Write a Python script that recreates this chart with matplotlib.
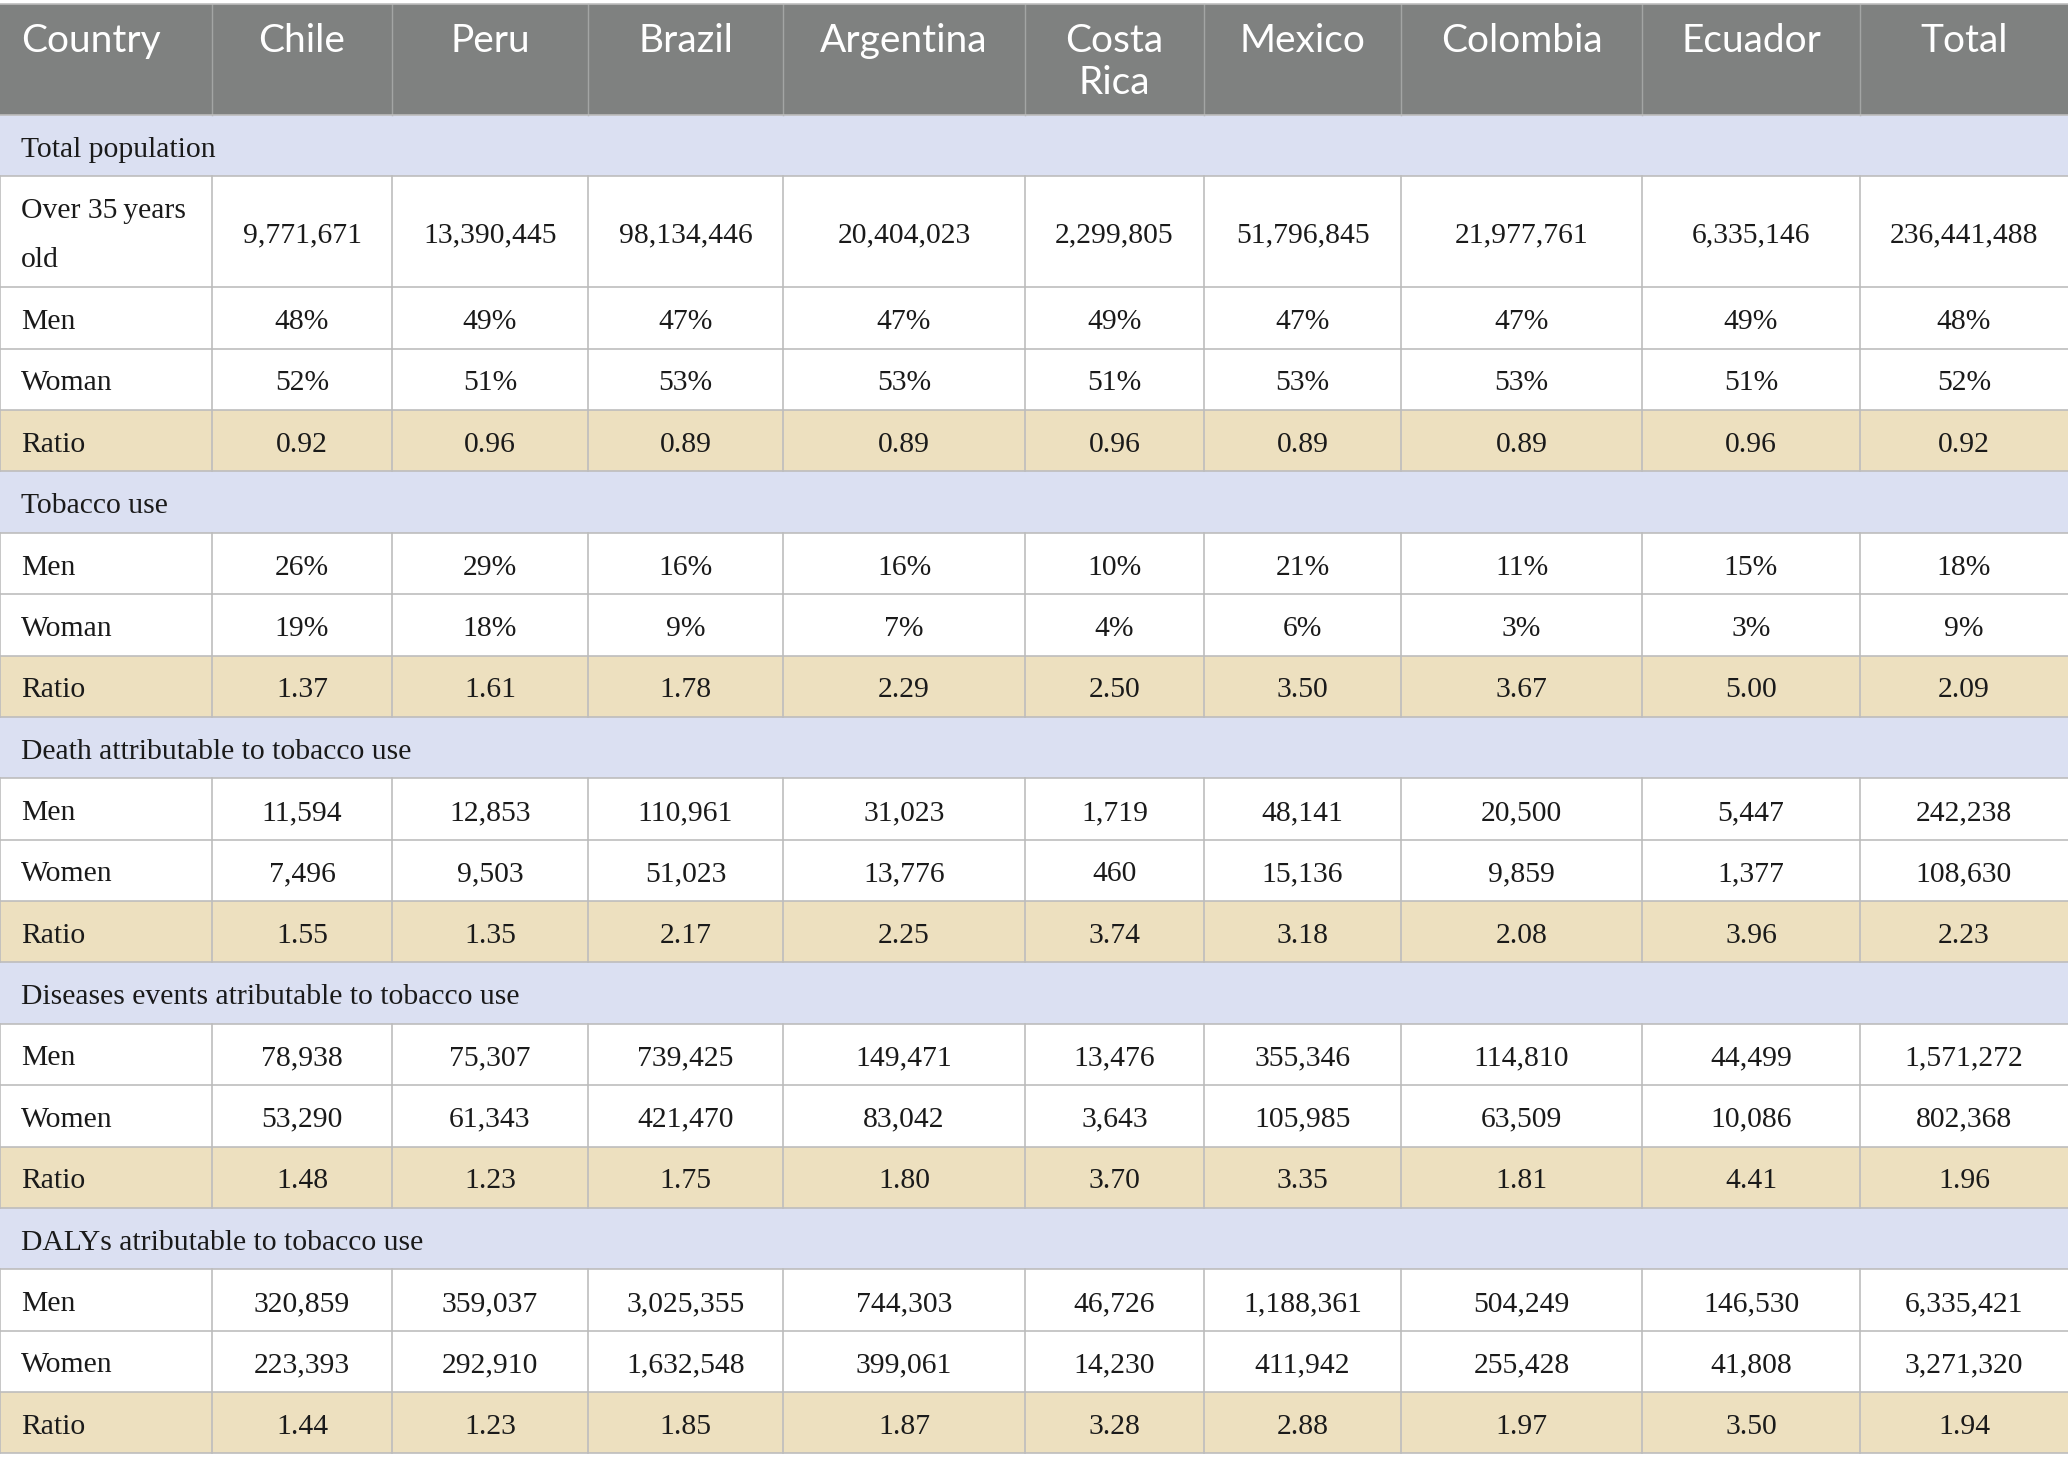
import matplotlib.pyplot as plt
from matplotlib.patches import Rectangle

# ---- data ----
header = ["Country", "Chile", "Peru", "Brazil", "Argentina", "Costa\nRica",
          "Mexico", "Colombia", "Ecuador", "Total"]

pop_over35 = ["9,771,671", "13,390,445", "98,134,446", "20,404,023", "2,299,805",
              "51,796,845", "21,977,761", "6,335,146", "236,441,488"]
pop_men = ["48%", "49%", "47%", "47%", "49%", "47%", "47%", "49%", "48%"]
pop_women = ["52%", "51%", "53%", "53%", "51%", "53%", "53%", "51%", "52%"]
pop_ratio = ["0.92", "0.96", "0.89", "0.89", "0.96", "0.89", "0.89", "0.96", "0.92"]

tob_men = ["26%", "29%", "16%", "16%", "10%", "21%", "11%", "15%", "18%"]
tob_women = ["19%", "18%", "9%", "7%", "4%", "6%", "3%", "3%", "9%"]
tob_ratio = ["1.37", "1.61", "1.78", "2.29", "2.50", "3.50", "3.67", "5.00", "2.09"]

death_men = ["11,594", "12,853", "110,961", "31,023", "1,719", "48,141", "20,500",
             "5,447", "242,238"]
death_women = ["7,496", "9,503", "51,023", "13,776", "460", "15,136", "9,859",
               "1,377", "108,630"]
death_ratio = ["1.55", "1.35", "2.17", "2.25", "3.74", "3.18", "2.08", "3.96", "2.23"]

dis_men = ["78,938", "75,307", "739,425", "149,471", "13,476", "355,346", "114,810",
           "44,499", "1,571,272"]
dis_women = ["53,290", "61,343", "421,470", "83,042", "3,643", "105,985", "63,509",
             "10,086", "802,368"]
dis_ratio = ["1.48", "1.23", "1.75", "1.80", "3.70", "3.35", "1.81", "4.41", "1.96"]

daly_men = ["320,859", "359,037", "3,025,355", "744,303", "46,726", "1,188,361",
            "504,249", "146,530", "6,335,421"]
daly_women = ["223,393", "292,910", "1,632,548", "399,061", "14,230", "411,942",
              "255,428", "41,808", "3,271,320"]
daly_ratio = ["1.44", "1.23", "1.85", "1.87", "3.28", "2.88", "1.97", "3.50", "1.94"]

# (kind, label, values)
rows = [
    ("section", "Total population", None),
    ("data", "Over 35\u2009years\nold", pop_over35),
    ("data", "Men", pop_men),
    ("data", "Woman", pop_women),
    ("ratio", "Ratio", pop_ratio),
    ("section", "Tobacco use", None),
    ("data", "Men", tob_men),
    ("data", "Woman", tob_women),
    ("ratio", "Ratio", tob_ratio),
    ("section", "Death attributable to tobacco use", None),
    ("data", "Men", death_men),
    ("data", "Women", death_women),
    ("ratio", "Ratio", death_ratio),
    ("section", "Diseases events atributable to tobacco use", None),
    ("data", "Men", dis_men),
    ("data", "Women", dis_women),
    ("ratio", "Ratio", dis_ratio),
    ("section", "DALYs atributable to tobacco use", None),
    ("data", "Men", daly_men),
    ("data", "Women", daly_women),
    ("ratio", "Ratio", daly_ratio),
]

# ---- layout (pixels) ----
W, H = 2068, 1472
col_edges = [0, 212, 392, 588, 783, 1025, 1204, 1401, 1642, 1860, 2068]
top = 4
header_h = 111
row_h = 61.37
tall_h = 111

HEADER_BG = "#7f8180"
SECTION_BG = "#dbe0f2"
RATIO_BG = "#ede0bf"
LINE = "#bdbdbd"
TEXT = "#1a1a1a"

serif = ["Liberation Serif", "DejaVu Serif"]
sans = ["Lato", "DejaVu Sans"]
body_fs = 21.3
head_fs = 28
dy = 4  # small downward nudge so serif text sits centred like the original

fig = plt.figure(figsize=(W / 100, H / 100), dpi=100)
ax = fig.add_axes([0, 0, 1, 1])
ax.set_xlim(0, W)
ax.set_ylim(H, 0)
ax.axis("off")

# header
ax.add_patch(Rectangle((0, top), W, header_h, facecolor=HEADER_BG, edgecolor="none"))
for i, name in enumerate(header):
    x0, x1 = col_edges[i], col_edges[i + 1]
    if i == 0:
        ax.text(x0 + 21, top + 19, name, ha="left", va="top", color="white",
                fontsize=head_fs, family=sans, linespacing=1.2)
    else:
        ax.text((x0 + x1) / 2, top + 19, name, ha="center", va="top", color="white",
                fontsize=head_fs, family=sans, linespacing=1.2)
    if i > 0:
        ax.plot([x0, x0], [top, top + header_h], color="#a3a5a4", lw=1.0)
ax.plot([0, W], [top, top], color=LINE, lw=1.2)

# body
y = top + header_h
for kind, label, vals in rows:
    h = tall_h if "\n" in label else row_h
    yc = y + h / 2 + dy
    if kind == "section":
        ax.add_patch(Rectangle((0, y), W, h, facecolor=SECTION_BG, edgecolor="none"))
        ax.text(21, yc, label, ha="left", va="center", color=TEXT,
                fontsize=body_fs, family=serif)
    else:
        bg = RATIO_BG if kind == "ratio" else "white"
        ax.add_patch(Rectangle((0, y), W, h, facecolor=bg, edgecolor="none"))
        ax.text(21, yc, label, ha="left", va="center", color=TEXT,
                fontsize=body_fs, family=serif, linespacing=2.15)
        for j, v in enumerate(vals):
            x0, x1 = col_edges[j + 1], col_edges[j + 2]
            ax.text((x0 + x1) / 2, yc, v, ha="center", va="center", color=TEXT,
                    fontsize=body_fs, family=serif)
        for xe in col_edges[1:-1]:
            ax.plot([xe, xe], [y, y + h], color=LINE, lw=1.2)
        ax.plot([0, 0], [y, y + h], color=LINE, lw=1.2)
    ax.plot([0, W], [y, y], color=LINE, lw=1.2)
    y += h
ax.plot([0, W], [y, y], color=LINE, lw=1.2)

fig.savefig("out.png", dpi=100)
